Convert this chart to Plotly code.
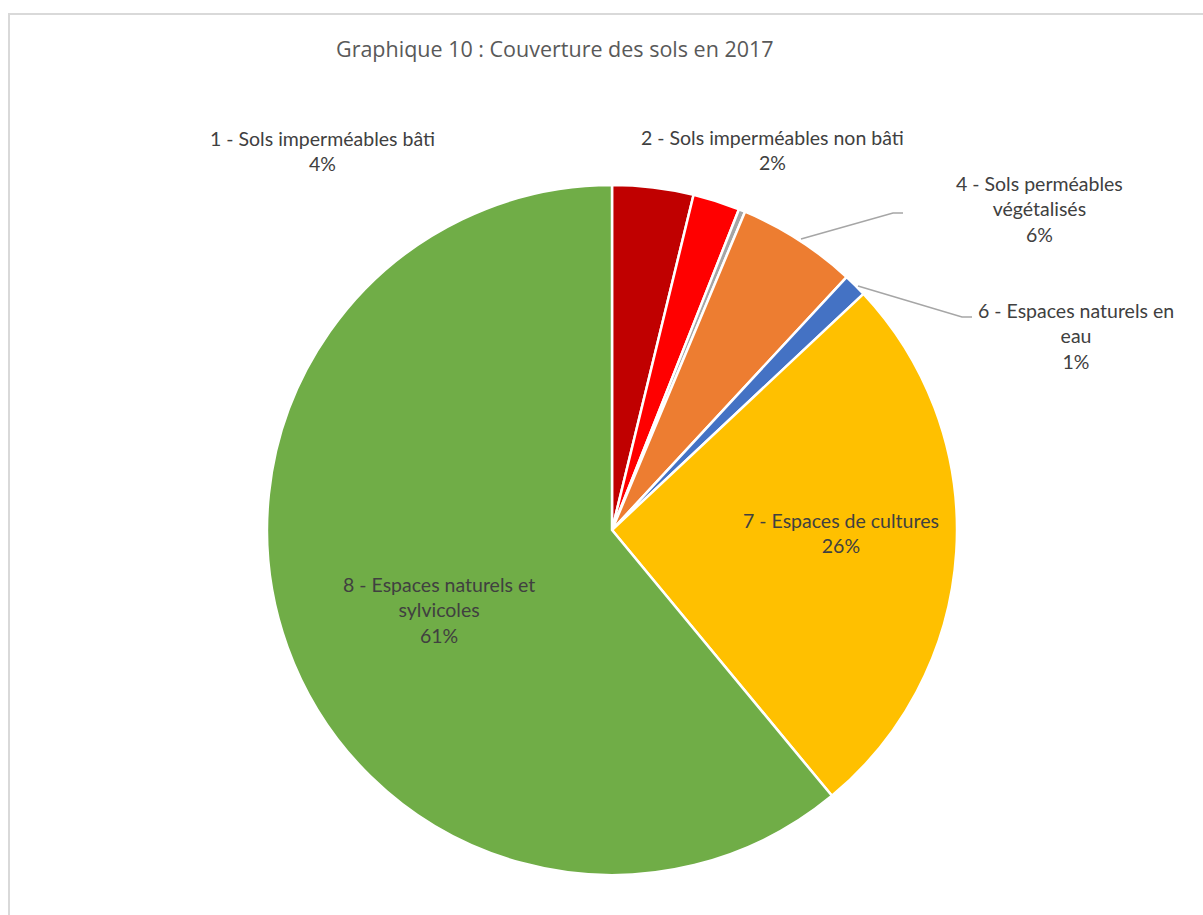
import plotly.graph_objects as go

W, H = 1203, 915

# ---- data ----
categories = [
    "1 - Sols imperméables bâti",
    "2 - Sols imperméables non bâti",
    "3 - Sols perméables non végétalisés",
    "4 - Sols perméables végétalisés",
    "6 - Espaces naturels en eau",
    "7 - Espaces de cultures",
    "8 - Espaces naturels et sylvicoles",
]
values = [3.8, 2.2, 0.3, 5.6, 1.1, 26.0, 61.0]
colors = ["#C00000", "#FF0000", "#A5A5A5", "#ED7D31", "#4472C4", "#FFC000", "#70AD47"]
# displayed label text lines (None = not labelled)
label_lines = [
    ["1 - Sols imperméables bâti"],
    ["2 - Sols imperméables non bâti"],
    None,
    ["4 - Sols perméables", "végétalisés"],
    ["6 - Espaces naturels en", "eau"],
    ["7 - Espaces de cultures"],
    ["8 - Espaces naturels et", "sylvicoles"],
]
# label anchor positions (pixels, centre of text block)
label_pos = [(322, 151), (772, 150), None, (1039, 209), (1076, 336), (841, 533), (439, 610)]
# leader lines (pixels)
leaders = {
    3: [(801, 239), (893, 213), (903, 213)],
    4: [(858, 286), (962, 317), (972, 317)],
}

# pie geometry (pixels)
cx, cy, R = 612, 530, 345

def px(x):
    return x / W

def py(y):
    return 1 - y / H

total = sum(values)

fig = go.Figure(go.Pie(
    labels=categories,
    values=values,
    sort=False,
    direction="clockwise",
    rotation=0,
    marker=dict(colors=colors, line=dict(color="white", width=2.5)),
    textinfo="none",
    textposition="none",
    hoverinfo="label+percent",
    showlegend=False,
    domain=dict(x=[px(cx - R), px(cx + R)], y=[py(cy + R), py(cy - R)]),
))

annotations = []
for i, lines in enumerate(label_lines):
    if lines is None:
        continue
    pct = f"{round(values[i] / total * 100):d}%"
    text = "<br>".join(lines + [pct])
    x, y = label_pos[i]
    annotations.append(dict(
        x=px(x), y=py(y), xref="paper", yref="paper",
        text=text, showarrow=False, align="center",
        xanchor="center", yanchor="middle",
        font=dict(family="Lato, Carlito, Calibri, sans-serif", size=19.5, color="#404040"),
    ))

annotations.append(dict(
    x=px(555), y=py(48), xref="paper", yref="paper",
    text="Graphique 10 : Couverture des sols en 2017",
    showarrow=False, xanchor="center", yanchor="middle",
    font=dict(family="Open Sans, sans-serif", size=21.5, color="#595959"),
))

shapes = []
for k, pts in leaders.items():
    path = "M " + " L ".join(f"{px(x)},{py(y)}" for x, y in pts)
    shapes.append(dict(type="path", path=path, xref="paper", yref="paper",
                       line=dict(color="#A6A6A6", width=1.5)))

# outer chart border
shapes.append(dict(type="rect", xref="paper", yref="paper",
                   x0=px(9), y0=py(H + 10), x1=px(W + 10), y1=py(14),
                   line=dict(color="#D9D9D9", width=2), fillcolor="rgba(0,0,0,0)"))

fig.update_layout(
    width=W, height=H,
    margin=dict(l=0, r=0, t=0, b=0),
    paper_bgcolor="white",
    plot_bgcolor="white",
    annotations=annotations,
    shapes=shapes,
)

fig.write_html("out.html")
